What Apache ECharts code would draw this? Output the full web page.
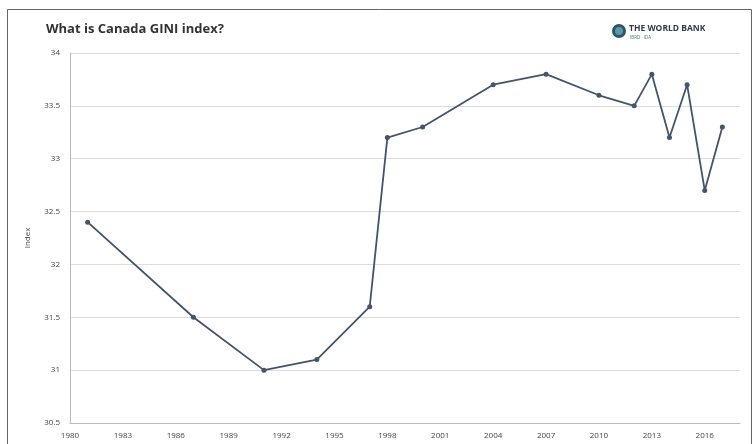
<!DOCTYPE html>
<html>
<head>
<meta charset="utf-8">
<script src="https://cdn.jsdelivr.net/npm/echarts@6/dist/echarts.min.js"></script>
<style>html,body{margin:0;padding:0;background:#fff}#c{width:756px;height:444px}</style>
</head>
<body>
<div id="c"></div>
<script>
const years = [1981, 1987, 1991, 1994, 1997, 1998, 2000, 2004, 2007, 2010, 2012, 2013, 2014, 2015, 2016, 2017];
const gini = [32.4, 31.5, 31.0, 31.1, 31.6, 33.2, 33.3, 33.7, 33.8, 33.6, 33.5, 33.8, 33.2, 33.7, 32.7, 33.3];
const xTicks = [1980, 1983, 1986, 1989, 1992, 1995, 1998, 2001, 2004, 2007, 2010, 2013, 2016];
const yTicks = [30.5, 31, 31.5, 32, 32.5, 33, 33.5, 34];
const title = 'What is Canada GINI index?';
const yName = 'Index';

const chart = echarts.init(document.getElementById('c'));
chart.setOption({
  animation: false,
  backgroundColor: '#fff',
  textStyle: { fontFamily: 'Open Sans' },
  grid: { left: 70, right: 16, top: 53, bottom: 21 },
  xAxis: {
    type: 'value', min: 1980, max: 2018, interval: 3,
    axisLine: { show: true, lineStyle: { color: '#bbb' } },
    axisTick: { show: false },
    splitLine: { show: false },
    axisLabel: {
      color: '#444', fontSize: 8, margin: 9,
      formatter: v => xTicks.includes(v) ? String(v) : ''
    }
  },
  yAxis: {
    type: 'value', min: 30.5, max: 34, interval: 0.5,
    name: yName, nameLocation: 'middle', nameGap: 38,
    nameTextStyle: { color: '#444', fontSize: 8 },
    axisLine: { show: true, lineStyle: { color: '#bbb' } },
    axisTick: { show: false },
    splitLine: { show: true, lineStyle: { color: '#ddd' } },
    axisLabel: {
      color: '#444', fontSize: 8, margin: 10,
      formatter: v => yTicks.includes(v) ? String(v) : ''
    }
  },
  series: [{
    type: 'line',
    data: years.map((y, i) => [y, gini[i]]),
    symbol: 'circle', symbolSize: 5,
    lineStyle: { color: '#43546b', width: 1.8 },
    itemStyle: { color: '#43546b' }
  }],
  graphic: [
    { type: 'rect', shape: { x: 7.5, y: 9.5, width: 744, height: 445 }, style: { fill: 'none', stroke: '#666', lineWidth: 1 } },
    { type: 'text', left: 46, top: 23, style: { text: title, fontSize: 13, fontWeight: 'bold', fill: '#333', fontFamily: 'Open Sans' } },
    { type: 'circle', shape: { cx: 619, cy: 31, r: 7 }, style: { fill: '#2c5566' } },
    { type: 'circle', shape: { cx: 619, cy: 31, r: 4 }, style: { fill: '#5a9aa8' } },
    { type: 'text', left: 629, top: 24, style: { text: 'THE WORLD BANK', fontSize: 8.5, fontWeight: 'bold', fill: '#2d3b4a', fontFamily: 'Open Sans' } },
    { type: 'text', left: 630, top: 35, style: { text: 'IBRD · IDA', fontSize: 4.5, fill: '#3a8a6a', fontFamily: 'Open Sans' } }
  ]
});
</script>
</body>
</html>
